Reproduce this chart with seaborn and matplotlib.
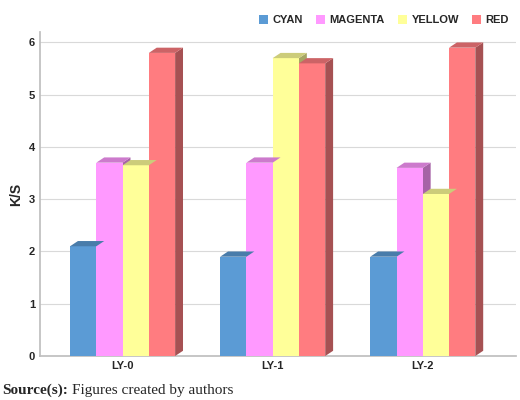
import numpy as np
import pandas as pd
import matplotlib
matplotlib.use("Agg")
import matplotlib.pyplot as plt
import seaborn as sns
from matplotlib.patches import Polygon
from matplotlib.colors import to_rgb

groups = ["LY-0", "LY-1", "LY-2"]
series = ["CYAN", "MAGENTA", "YELLOW", "RED"]
cyan = [2.1, 1.9, 1.9]
magenta = [3.7, 3.7, 3.6]
yellow = [3.65, 5.7, 3.1]
red = [5.8, 5.6, 5.9]
colors = ["#5b9bd5", "#ff99ff", "#ffff99", "#ff7c80"]

sns.set_theme(style="white")
plt.rcParams["font.family"] = ["Liberation Sans", "DejaVu Sans"]

df = pd.DataFrame({"group": groups * 4,
                   "series": np.repeat(series, 3),
                   "value": cyan + magenta + yellow + red})

fig = plt.figure(figsize=(5.2, 4.0), dpi=100)
ax = fig.add_axes([0.077, 0.11, 0.915, 0.81])
sns.barplot(data=df, x="group", y="value", hue="series", palette=colors,
            width=0.7, gap=0, saturation=1, linewidth=0, ax=ax, zorder=3)

dy = 0.1
for patch in list(ax.patches):
    x0 = patch.get_x()
    w, h = patch.get_width(), patch.get_height()
    if h <= 0:
        continue
    dx = w * 0.3
    c = np.array(to_rgb(patch.get_facecolor()))
    top = Polygon([(x0, h), (x0 + dx, h + dy), (x0 + w + dx, h + dy), (x0 + w, h)],
                  closed=True, facecolor=c * 0.8, edgecolor="none", zorder=3)
    side = Polygon([(x0 + w, 0), (x0 + w + dx, dy), (x0 + w + dx, h + dy), (x0 + w, h)],
                   closed=True, facecolor=c * 0.65, edgecolor="none", zorder=2.9)
    ax.add_patch(top)
    ax.add_patch(side)

ax.set_ylim(0, 6.2)
ax.set_xlim(-0.55, 2.62)
ax.set_yticks(range(7))
ax.yaxis.grid(True, color="#d9d9d9", linewidth=0.8, zorder=0)
for s in ["top", "right"]:
    ax.spines[s].set_visible(False)
ax.spines["left"].set_color("#bfbfbf")
ax.spines["bottom"].set_color("#bfbfbf")
ax.set_xlabel("")
ax.set_ylabel("K/S", fontweight="bold", fontsize=10)
ax.tick_params(axis="both", labelsize=8, length=0)
for t in ax.get_xticklabels() + ax.get_yticklabels():
    t.set_fontweight("bold")

ax.legend(loc="lower right", bbox_to_anchor=(1.0, 1.0), ncol=4, frameon=False,
          prop={"weight": "bold", "size": 8}, handlelength=0.8,
          handleheight=0.8, columnspacing=1.2, handletextpad=0.4, borderaxespad=0.2)

fig.text(0.005, 0.015, "Source(s):", fontweight="bold", fontsize=11,
         family="Liberation Serif")
fig.text(0.138, 0.015, "Figures created by authors", fontsize=11,
         family="Liberation Serif")

fig.savefig("out.png", dpi=100)
